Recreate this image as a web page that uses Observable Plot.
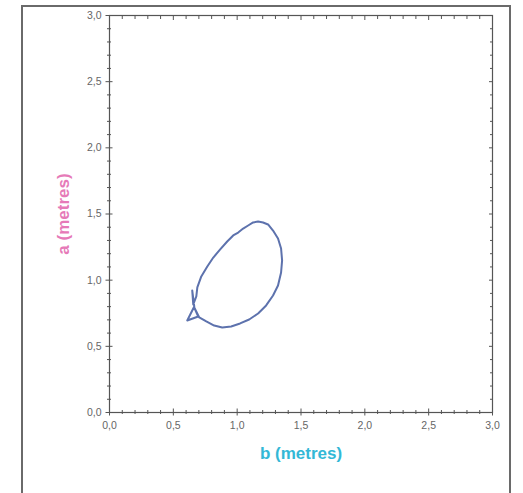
<!DOCTYPE html>
<html><head><meta charset="utf-8">
<script src="https://cdn.jsdelivr.net/npm/d3@7"></script>
<script src="https://cdn.jsdelivr.net/npm/@observablehq/plot@0.6"></script>
<style>
html,body{margin:0;padding:0;background:#fff;}
#wrap{position:relative;width:523px;height:493px;overflow:hidden;}
#border{position:absolute;left:21px;top:5px;width:486px;height:520px;border:2px solid #6a6a6a;}
#chart{position:absolute;left:0;top:0;}
</style></head><body>
<div id="wrap"><div id="border"></div><div id="chart"></div></div>
<script>
const majorTicks = [0, 0.5, 1.0, 1.5, 2.0, 2.5, 3.0];
const tickLabels = ["0,0", "0,5", "1,0", "1,5", "2,0", "2,5", "3,0"];
const minorTicks = [0.1, 0.2, 0.3, 0.4, 0.6, 0.7, 0.8, 0.9, 1.1, 1.2, 1.3, 1.4,
  1.6, 1.7, 1.8, 1.9, 2.1, 2.2, 2.3, 2.4, 2.6, 2.7, 2.8, 2.9];
const xLabel = "b (metres)";
const yLabel = "a (metres)";

// trajectory: b (x) and a (y), in metres
const bValues = [0.680, 0.688, 0.719, 0.766, 0.813, 0.867, 0.922, 0.969, 1.008,
  1.047, 1.086, 1.125, 1.164, 1.203, 1.242, 1.281, 1.320, 1.344, 1.352,
  1.344, 1.320, 1.281, 1.227, 1.164, 1.094, 1.023, 0.953, 0.883, 0.820,
  0.758, 0.703, 0.664, 0.695, 0.609, 0.664, 0.648, 0.656, 0.680];
const aValues = [0.877, 0.945, 1.028, 1.103, 1.171, 1.232, 1.292, 1.338, 1.360,
  1.390, 1.413, 1.436, 1.443, 1.436, 1.421, 1.375, 1.315, 1.239, 1.149,
  1.058, 0.960, 0.884, 0.809, 0.748, 0.703, 0.673, 0.650, 0.642, 0.657,
  0.688, 0.718, 0.793, 0.725, 0.695, 0.801, 0.922, 0.816, 0.877];

const pts = bValues.map((b, i) => ({b, a: aValues[i]}));
const fmt = (d) => tickLabels[majorTicks.indexOf(d)] ?? "";
const none = () => "";
const axisColor = "#555";
const font = "Liberation Sans, Arial, sans-serif";

const chart = Plot.plot({
  width: 523,
  height: 493,
  marginLeft: 109,
  marginRight: 31,
  marginTop: 15,
  marginBottom: 81,
  style: {fontFamily: font, background: "transparent"},
  x: {domain: [0, 3]},
  y: {domain: [0, 3]},
  marks: [
    Plot.frame({stroke: axisColor, strokeWidth: 1.2}),
    // bottom
    Plot.axisX(majorTicks, {anchor: "bottom", tickSize: 7, dy: -3.5, tickFormat: none, label: null, stroke: axisColor}),
    Plot.axisX(minorTicks, {anchor: "bottom", tickSize: 4, dy: -2, tickFormat: none, label: null, stroke: axisColor}),
    Plot.axisX(majorTicks, {anchor: "bottom", tickSize: 0, tickPadding: 9, tickFormat: fmt, label: null, fontSize: 10.5, fill: "#666"}),
    // top
    Plot.axisX(majorTicks, {anchor: "top", tickSize: 4, dy: 4, tickFormat: none, label: null, stroke: axisColor}),
    Plot.axisX(minorTicks, {anchor: "top", tickSize: 3, dy: 3, tickFormat: none, label: null, stroke: axisColor}),
    // left
    Plot.axisY(majorTicks, {anchor: "left", tickSize: 7, dx: 3.5, tickFormat: none, label: null, stroke: axisColor}),
    Plot.axisY(minorTicks, {anchor: "left", tickSize: 4, dx: 2, tickFormat: none, label: null, stroke: axisColor}),
    Plot.axisY(majorTicks, {anchor: "left", tickSize: 0, tickPadding: 8, tickFormat: fmt, label: null, fontSize: 10.5, fill: "#666"}),
    // right
    Plot.axisY(majorTicks, {anchor: "right", tickSize: 4, dx: -4, tickFormat: none, label: null, stroke: axisColor}),
    Plot.axisY(minorTicks, {anchor: "right", tickSize: 3, dx: -3, tickFormat: none, label: null, stroke: axisColor}),
    // axis titles
    Plot.text([xLabel], {frameAnchor: "bottom", dy: 46, text: d => d, fontSize: 17, fontWeight: "bold", fill: "#33b8d6"}),
    Plot.text([yLabel], {frameAnchor: "left", dx: -46, rotate: -90, textAnchor: "middle", text: d => d, fontSize: 17, fontWeight: "bold", fill: "#e67ab8"}),
    // data
    Plot.line(pts, {x: "b", y: "a", stroke: "#5d72ad", strokeWidth: 2, strokeLinejoin: "round"})
  ]
});
document.getElementById("chart").appendChild(chart);
</script>
</body></html>
